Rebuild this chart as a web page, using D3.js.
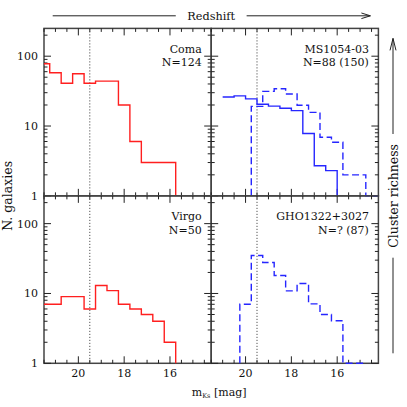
<!DOCTYPE html>
<html><head><meta charset="utf-8">
<script src="https://cdn.jsdelivr.net/npm/d3@7"></script>
<style>
body{margin:0;background:#fff}
svg{display:block}
text{font-family:"DejaVu Serif",serif;fill:#111;font-size:11px}
</style>
</head><body>
<svg id="c" width="407" height="407"></svg>
<script>
// ---------------- data ----------------
const binWidth = 0.5;            // mag
const limitMag = 19.5;           // dotted completeness line
const xTickLabels = [20, 18, 16];
const yTickLabels = [1, 10, 100];

const comaMag = [21.5, 21.0, 20.5, 20.0, 19.5, 19.0, 18.5, 18.0, 17.5, 17.0, 16.5, 16.0];
const comaN   = [78, 58, 41, 56, 41, 44, 44, 20, 6, 3, 3, 3];

const virgoMag = [21.5, 21.0, 20.5, 20.0, 19.5, 19.0, 18.5, 18.0, 17.5, 17.0, 16.5, 16.0];
const virgoN   = [7, 7, 9, 9, 6, 13, 11, 7, 6, 5, 4, 2];

const ms1054Mag = [20.75, 20.25, 19.75, 19.25, 18.75, 18.25, 17.75, 17.25, 16.75, 16.25];
const ms1054N   = [26, 27, 24.5, 20.5, 19.3, 18, 16.6, 7.8, 2.7, 2.3];

const ms1054AllMag = [19.5, 19.0, 18.5, 18.0, 17.5, 17.0, 16.5, 16.0, 15.5, 15.0, 14.5, 14.0];
const ms1054AllN   = [19.1, 31.3, 34.2, 28.7, 19.8, 15.7, 6.9, 5.85, 2, 2, 0, 0];

const gho1322AllMag = [20.0, 19.5, 19.0, 18.5, 18.0, 17.5, 17.0, 16.5, 16.0, 15.5, 15.0];
const gho1322AllN   = [7, 34.9, 27.7, 18.1, 10.9, 13.9, 7.1, 5.0, 4.06, 0, 0];

const clusterNames  = ["Coma", "MS1054-03", "Virgo", "GHO1322+3027"];
const clusterCounts = ["N=124", "N=88 (150)", "N=50", "N=? (87)"];

// ---------------- layout ----------------
const RED = "#ff1f1f", BLUE = "#2626ff";
const px0 = 44, pw = 167.2, py0 = 28.4, ph = 167.45;

const panels = [
  {col:0,row:0,name:clusterNames[0],count:clusterCounts[0],series:[
    {mag:comaMag,n:comaN,color:RED,dash:null,startBase:false,endBase:true}]},
  {col:1,row:0,name:clusterNames[1],count:clusterCounts[1],series:[
    {mag:ms1054Mag,n:ms1054N,color:BLUE,dash:null,startBase:false,endBase:true},
    {mag:ms1054AllMag,n:ms1054AllN,color:BLUE,dash:"7,3.5",startBase:true,endBase:false}]},
  {col:0,row:1,name:clusterNames[2],count:clusterCounts[2],series:[
    {mag:virgoMag,n:virgoN,color:RED,dash:null,startBase:false,endBase:true}]},
  {col:1,row:1,name:clusterNames[3],count:clusterCounts[3],series:[
    {mag:gho1322AllMag,n:gho1322AllN,color:BLUE,dash:"7,3.5",startBase:true,endBase:false}]}
];

const svg = d3.select("#c");
const defs = svg.append("defs");

function stepPoints(mags, ns, startBase, endBase){
  const h = binWidth/2, pts = [];
  if (startBase) pts.push([mags[0]+h, 0]);
  mags.forEach((m,i)=>{ pts.push([m+h, ns[i]]); pts.push([m-h, ns[i]]); });
  if (endBase) pts.push([mags[mags.length-1]-h, 0]);
  return pts;
}

panels.forEach((p,i)=>{
  const X0 = px0 + p.col*pw, Y0 = py0 + p.row*ph;
  const x = d3.scaleLinear().domain([21.5, 14.2]).range([X0, X0+pw]);
  const y = d3.scaleLog().domain([1, 250]).range([Y0+ph, Y0]);
  const g = svg.append("g");

  // frame
  g.append("rect").attr("x",X0).attr("y",Y0).attr("width",pw).attr("height",ph)
    .attr("fill","none").attr("stroke","#444").attr("stroke-width",1.5);

  // x ticks (bottom & top, inward)
  const xt = d3.range(14.5, 21.51, 0.5);
  xt.forEach(m=>{
    const major = Math.abs(m % 2) < 1e-6;
    const L = major ? 7 : 3.5;
    const xx = x(m);
    g.append("line").attr("x1",xx).attr("x2",xx).attr("y1",Y0+ph).attr("y2",Y0+ph-L)
      .attr("stroke","#222").attr("stroke-width",1);
    g.append("line").attr("x1",xx).attr("x2",xx).attr("y1",Y0).attr("y2",Y0+L)
      .attr("stroke","#222").attr("stroke-width",1);
  });
  // y ticks (left & right, inward)
  y.ticks().forEach(v=>{
    const lg = Math.log10(v);
    const major = Math.abs(lg - Math.round(lg)) < 1e-6;
    const L = major ? 7 : 3.5;
    const yy = y(v);
    g.append("line").attr("x1",X0).attr("x2",X0+L).attr("y1",yy).attr("y2",yy)
      .attr("stroke","#222").attr("stroke-width",1);
    g.append("line").attr("x1",X0+pw).attr("x2",X0+pw-L).attr("y1",yy).attr("y2",yy)
      .attr("stroke","#222").attr("stroke-width",1);
  });

  // tick labels
  if (p.col===0){
    yTickLabels.forEach(v=>{
      g.append("text").attr("x",X0-6).attr("y",y(v)).attr("dy","0.36em")
        .attr("text-anchor","end").text(v);
    });
  }
  if (p.row===1){
    xTickLabels.forEach(m=>{
      g.append("text").attr("x",x(m)).attr("y",Y0+ph+14).attr("text-anchor","middle").text(m);
    });
  }

  // dotted limit
  g.append("line").attr("x1",x(limitMag)).attr("x2",x(limitMag)).attr("y1",Y0).attr("y2",Y0+ph)
    .attr("stroke","#333").attr("stroke-width",1).attr("stroke-dasharray","1,2");

  // labels
  g.append("text").attr("x",X0+pw-9.5).attr("y",Y0+24.5).attr("text-anchor","end").text(p.name);
  g.append("text").attr("x",X0+pw-9.5).attr("y",Y0+38).attr("text-anchor","end").text(p.count);

  // histograms
  const cid = "clip"+i;
  defs.append("clipPath").attr("id",cid).append("rect")
    .attr("x",X0).attr("y",Y0-2).attr("width",pw).attr("height",ph+4);
  const line = d3.line().x(d=>x(d[0])).y(d=>y(Math.max(d[1],1)));
  p.series.forEach(s=>{
    g.append("path").attr("clip-path",`url(#${cid})`)
      .attr("d", line(stepPoints(s.mag, s.n, s.startBase, s.endBase)))
      .attr("fill","none").attr("stroke",s.color).attr("stroke-width",1.4)
      .attr("stroke-dasharray", s.dash);
  });
});

// ---------------- axis titles & annotations ----------------
const midX = px0 + pw, midY = py0 + ph;
const right = px0 + 2*pw, bottom = py0 + 2*ph;

// N. galaxies
svg.append("text").attr("transform",`translate(11.5,${midY}) rotate(-90)`)
  .attr("text-anchor","middle").style("font-size","12.5px").text("N. galaxies");

// m_Ks [mag]
const xl = svg.append("text").attr("x",midX+8).attr("y",396).attr("text-anchor","middle");
xl.append("tspan").text("m");
xl.append("tspan").attr("font-size","6.5px").attr("dy","1.5").text("Ks");
xl.append("tspan").attr("dy","-1.5").text(" [mag]");

// Redshift arrow
const ry = 15.8;
const rt = svg.append("text").attr("x",midX).attr("y",ry+4).attr("text-anchor","middle")
  .style("font-size","11.3px").text("Redshift");
const rlen = rt.node().getComputedTextLength()/2 + 11.5;
const arr = svg.append("g").attr("stroke","#222").attr("stroke-width",1).attr("fill","none");
arr.append("line").attr("x1",px0+8.7).attr("x2",midX-rlen).attr("y1",ry).attr("y2",ry);
arr.append("line").attr("x1",midX+rlen).attr("x2",right-8).attr("y1",ry).attr("y2",ry);
arr.append("path").attr("d",`M${right-17},${ry-2.8}L${right-8},${ry}L${right-17},${ry+2.8}`);

// Cluster richness arrow
const cx = 393;
const ct = svg.append("text").attr("transform",`translate(${cx+4.5},${midY}) rotate(-90)`)
  .attr("text-anchor","middle").style("font-size","12.5px").text("Cluster richness");
const clen = ct.node().getComputedTextLength()/2 + 10;
arr.append("line").attr("x1",cx).attr("x2",cx).attr("y1",bottom-10).attr("y2",midY+clen);
arr.append("line").attr("x1",cx).attr("x2",cx).attr("y1",midY-clen).attr("y2",py0+10);
arr.append("path").attr("d",`M${cx-3},${py0+22}L${cx},${py0+10}L${cx+3},${py0+22}`);
</script>
</body></html>
